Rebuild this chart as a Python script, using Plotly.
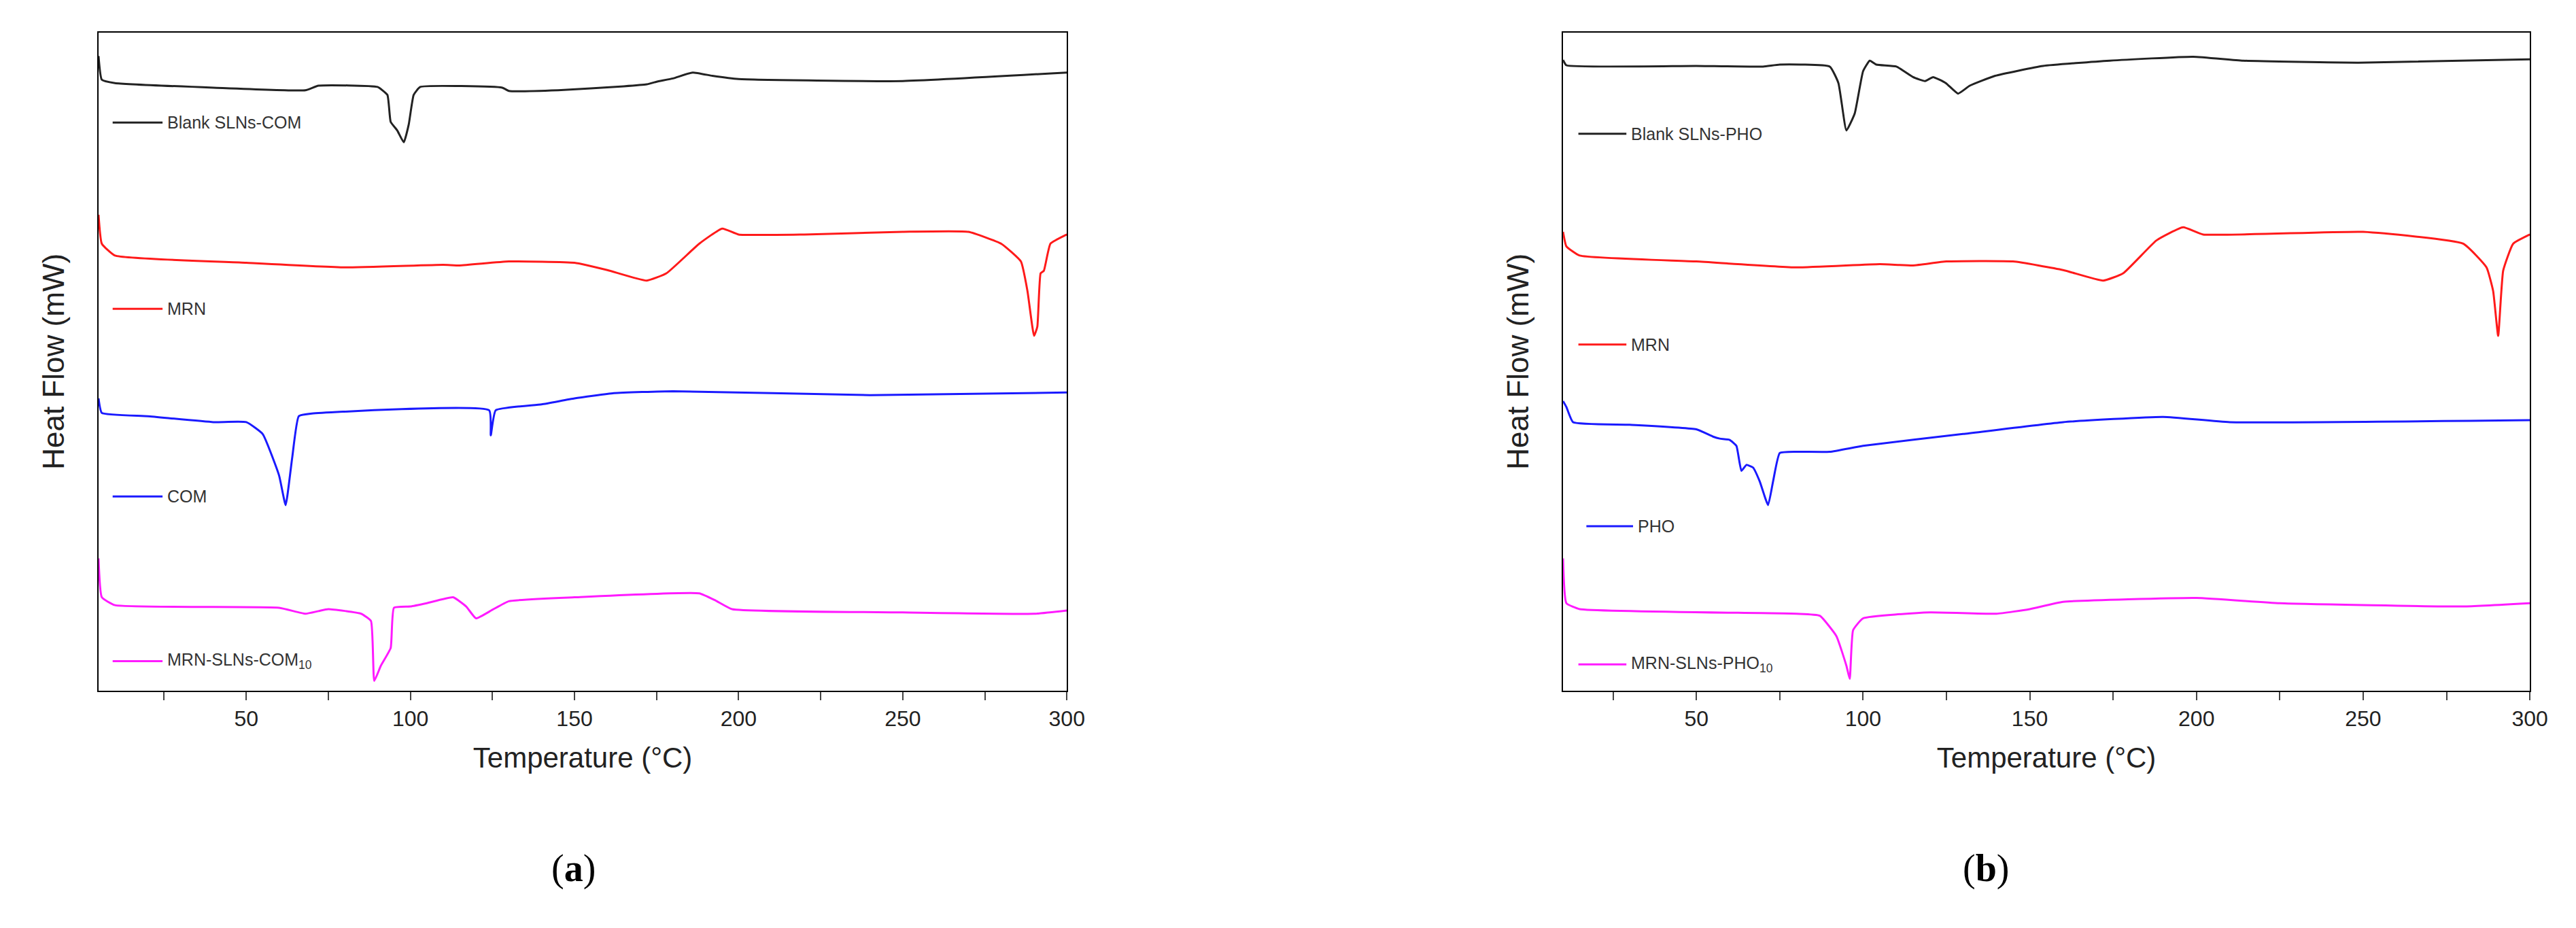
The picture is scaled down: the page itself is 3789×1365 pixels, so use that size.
import plotly.graph_objects as go

# ---- panel (a) ----
a_blank_x = [5, 6, 10, 40, 68, 72, 90, 93, 94, 96, 98, 99.5, 101, 103, 128, 130, 145, 165, 172, 175, 180, 186, 192, 200, 250, 300]
a_blank_y = [96.4, 92.8, 92.3, 91.6, 91.2, 91.9, 91.7, 90.5, 86.4, 85.1, 83.3, 86.0, 90.5, 91.7, 91.6, 91.1, 91.2, 91.8, 92.1, 92.5, 93.0, 93.9, 93.4, 92.9, 92.6, 93.9]
a_mrn_x = [5, 6, 10, 50, 80, 110, 115, 130, 150, 160, 172, 178, 188, 195, 200, 220, 250, 270, 280, 286, 288, 290, 291, 292, 293, 295, 300]
a_mrn_y = [72.3, 67.9, 66.1, 65.0, 64.3, 64.7, 64.6, 65.2, 65.0, 63.9, 62.3, 63.4, 67.9, 70.2, 69.3, 69.3, 69.7, 69.7, 67.9, 65.2, 60.7, 53.9, 55.3, 63.4, 63.8, 67.9, 69.3]
a_com_x = [5, 6, 20, 40, 50, 55, 60, 62, 64, 66, 70, 124, 124.5, 126, 140, 150, 162, 180, 240, 300]
a_com_y = [44.4, 42.2, 41.7, 40.8, 40.8, 39.0, 32.7, 28.2, 35.4, 41.7, 42.1, 42.6, 38.8, 42.6, 43.5, 44.4, 45.2, 45.5, 44.9, 45.3]
a_mix_x = [5, 6, 10, 60, 68, 72, 75, 85, 88, 89, 91, 94, 95, 100, 105, 113, 117, 120, 125, 130, 150, 188, 193, 198, 250, 290, 300]
a_mix_y = [20.1, 14.2, 13.0, 12.6, 11.7, 12.1, 12.4, 11.7, 10.6, 1.5, 3.8, 6.5, 12.6, 12.8, 13.3, 14.2, 12.8, 11.0, 12.3, 13.6, 14.2, 14.8, 13.7, 12.4, 11.9, 11.7, 12.2]

# ---- panel (b) ----
b_blank_x = [10, 11, 50, 70, 75, 90, 92.6, 95, 97.5, 100, 102, 104, 110, 115, 118.6, 121, 124.8, 128.5, 132, 139.6, 154, 174, 199, 214, 248.5, 300]
b_blank_y = [95.8, 95.0, 94.9, 94.8, 95.1, 94.8, 92.3, 85.1, 87.7, 94.1, 95.7, 95.1, 94.8, 93.2, 92.6, 93.2, 92.3, 90.7, 91.9, 93.4, 94.9, 95.7, 96.3, 95.7, 95.4, 95.9]
b_mrn_x = [10, 11, 15, 50, 80, 105, 115, 125, 145, 160, 172, 178, 188, 196, 202, 250, 280, 287, 289, 290.5, 292, 295, 300]
b_mrn_y = [69.7, 67.5, 66.1, 65.2, 64.3, 64.8, 64.6, 65.2, 65.2, 63.9, 62.3, 63.4, 68.4, 70.4, 69.3, 69.7, 67.9, 64.3, 60.7, 53.9, 63.8, 67.9, 69.3]
b_pho_x = [10, 11, 13, 30, 50, 55, 57, 60, 62, 63.5, 65, 67, 69, 71.5, 73, 75, 80, 90, 100, 130, 160, 190, 210, 300]
b_pho_y = [44.0, 43.1, 40.8, 40.4, 39.7, 38.6, 38.3, 38.1, 37.2, 33.4, 34.3, 33.9, 31.8, 28.2, 31.8, 36.1, 36.3, 36.3, 37.2, 39.0, 40.8, 41.6, 40.8, 41.1]
b_mix_x = [10, 11, 15, 80, 87, 92, 95, 96, 97, 100, 120, 140, 150, 160, 200, 225, 280, 300]
b_mix_y = [20.1, 13.3, 12.4, 11.7, 11.4, 8.3, 3.8, 1.8, 9.2, 11.0, 11.9, 11.7, 12.4, 13.5, 14.1, 13.3, 12.8, 13.3]

colors = ["#222222", "#ff1a1a", "#1a1aff", "#ff1aff"]
a_labels = ["Blank SLNs-COM", "MRN", "COM", "MRN-SLNs-COM<sub>10</sub>"]
b_labels = ["Blank SLNs-PHO", "MRN", "PHO", "MRN-SLNs-PHO<sub>10</sub>"]
a_label_y = [86.3, 58.0, 29.5, 4.5]
b_label_y = [84.6, 52.6, 25.0, 4.0]

SANS = "Liberation Sans"

fig = go.Figure()
a_series = [(a_blank_x, a_blank_y), (a_mrn_x, a_mrn_y), (a_com_x, a_com_y), (a_mix_x, a_mix_y)]
b_series = [(b_blank_x, b_blank_y), (b_mrn_x, b_mrn_y), (b_pho_x, b_pho_y), (b_mix_x, b_mix_y)]
for (x, y), c in zip(a_series, colors):
    fig.add_trace(go.Scatter(x=x, y=y, mode="lines", line=dict(color=c, width=3, shape="spline", smoothing=0.4),
                             xaxis="x", yaxis="y", showlegend=False))
for (x, y), c in zip(b_series, colors):
    fig.add_trace(go.Scatter(x=x, y=y, mode="lines", line=dict(color=c, width=3, shape="spline", smoothing=0.4),
                             xaxis="x2", yaxis="y2", showlegend=False))

# in-plot legend entries
for i, c in enumerate(colors):
    for ax, labels, ly, x0, x1 in [("", a_labels, a_label_y, 9.3, 24.5),
                                   ("2", b_labels, b_label_y, 14.6 if i != 2 else 17, 29 if i != 2 else 31)]:
        fig.add_shape(type="line", x0=x0, x1=x1, y0=ly[i], y1=ly[i], xref="x" + ax, yref="y" + ax,
                      line=dict(color=c, width=3))
        fig.add_annotation(x=x1 + 1, y=ly[i], xref="x" + ax, yref="y" + ax, text=labels[i], showarrow=False,
                           xanchor="left", font=dict(family=SANS, size=25, color="#333"))

ticks = list(range(25, 301, 25))
ticktext = [str(t) if t % 50 == 0 else " " for t in ticks]
xcommon = dict(tickvals=ticks, ticktext=ticktext, ticks="outside", ticklen=12, tickwidth=2,
               showline=True, linecolor="black", linewidth=2, mirror=True, showgrid=False, zeroline=False,
               tickfont=dict(family=SANS, size=32, color="#222"),
               title=dict(text="Temperature (°C)", font=dict(family=SANS, size=42, color="#222"), standoff=25))
ycommon = dict(range=[0, 100], showticklabels=False, ticks="", showline=True, linecolor="black", linewidth=2,
               mirror=True, showgrid=False, zeroline=False,
               title=dict(text="Heat Flow (mW)", font=dict(family=SANS, size=44, color="#222"), standoff=35))

fig.update_layout(
    width=3789, height=1365, paper_bgcolor="white", plot_bgcolor="white",
    margin=dict(l=0, r=0, t=0, b=0),
    xaxis=dict(domain=[0.0364, 0.415], range=[5, 300], anchor="y", **xcommon),
    yaxis=dict(domain=[0.2615, 0.971], anchor="x", **ycommon),
    xaxis2=dict(domain=[0.609, 0.987], range=[10, 300], anchor="y2", **xcommon),
    yaxis2=dict(domain=[0.2615, 0.971], anchor="x2", **ycommon),
)
fig.add_annotation(x=0.213, y=1 - 1303 / 1365, xref="paper", yref="paper", text="(<b>a</b>)", showarrow=False,
                   font=dict(family="Liberation Serif", size=56, color="black"))
fig.add_annotation(x=0.784, y=1 - 1303 / 1365, xref="paper", yref="paper", text="(<b>b</b>)", showarrow=False,
                   font=dict(family="Liberation Serif", size=56, color="black"))

fig.write_html("out.html")
